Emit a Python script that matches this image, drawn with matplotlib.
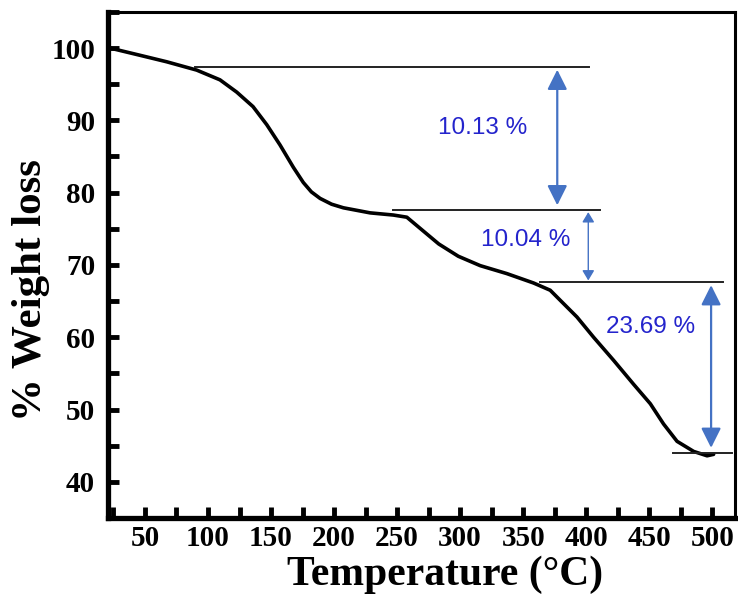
import matplotlib
matplotlib.use("Agg")
import matplotlib.pyplot as plt
from matplotlib.ticker import MultipleLocator

# TGA curve
temp = [22.2, 46, 67.2, 91, 109.5, 122.8, 135.7, 146.6, 157.1, 167.7, 175.6,
        182, 188.9, 198, 207.4, 228.6, 247, 257.7, 270, 283, 298.5, 315.9, 337,
        358.2, 371.4, 379.4, 392.6, 405.8, 421.7, 437.5, 450.8, 461.3, 472,
        485.2, 495.8, 501]
weight = [100.0, 99.0, 98.1, 96.95, 95.6, 93.9, 91.9, 89.4, 86.6, 83.5, 81.4,
          80.1, 79.2, 78.4, 77.9, 77.2, 76.9, 76.6, 74.8, 72.9, 71.2, 69.9,
          68.8, 67.5, 66.5, 65.1, 62.8, 60.0, 56.8, 53.5, 50.8, 48.0, 45.6,
          44.2, 43.6, 43.8]

# step levels (y, x start, x end)
level_y = [97.37, 77.55, 67.6, 44.0]
level_x0 = [89.7, 247, 363.5, 469]
level_x1 = [402, 411, 508.7, 515.7]

# double arrows (x, y top, y bottom) and labels
arrow_x = [377, 401.6, 499]
arrow_top = [97.0, 77.3, 67.2]
arrow_bot = [78.25, 67.85, 44.7]
arrow_big = [True, False, True]
loss_text = ["10.13 %", "10.04 %", "23.69 %"]
text_x = [318, 351.6, 450.8]
text_y = [88.9, 73.4, 61.4]

fig = plt.figure(figsize=(7.38, 5.94), dpi=100)
ax = fig.add_axes([0.146, 0.128, 0.85, 0.852])

ax.plot(temp, weight, color="black", lw=2.6, solid_capstyle="round",
        solid_joinstyle="round")

for y, a, b in zip(level_y, level_x0, level_x1):
    ax.plot([a, b], [y, y], color="#222222", lw=1.4)

arrow_col = "#4472C4"
for x, t, b, big in zip(arrow_x, arrow_top, arrow_bot, arrow_big):
    if big:
        style = "<|-|>,head_length=1.2,head_width=0.6"
        lw = 1.6
    else:
        style = "<|-|>,head_length=0.6,head_width=0.36"
        lw = 1.0
    ax.annotate("", xy=(x, b), xytext=(x, t),
                arrowprops=dict(arrowstyle=style, color=arrow_col, lw=lw,
                                mutation_scale=10, shrinkA=0, shrinkB=0))

for s, x, y in zip(loss_text, text_x, text_y):
    ax.text(x, y, s, color="#2424cc", fontsize=17.5, family="Liberation Sans",
            ha="center", va="center")

ax.set_xlim(20.5, 518)
ax.set_ylim(35, 105)
ax.xaxis.set_major_locator(MultipleLocator(50))
ax.xaxis.set_minor_locator(MultipleLocator(25))
ax.yaxis.set_major_locator(MultipleLocator(10))
ax.yaxis.set_minor_locator(MultipleLocator(5))
ax.tick_params(which="both", direction="in", length=8, width=3.5,
               top=False, right=False)
ax.tick_params(axis="x", labelsize=21, pad=5)
ax.tick_params(axis="y", labelsize=21, pad=9)
for lab in ax.get_xticklabels() + ax.get_yticklabels():
    lab.set_fontfamily("Liberation Serif")
    lab.set_fontweight("bold")

ax.spines["left"].set_linewidth(3.8)
ax.spines["bottom"].set_linewidth(3.8)
ax.spines["top"].set_linewidth(2.2)
ax.spines["right"].set_linewidth(2.2)

ax.set_xlabel("Temperature (\u00b0C)", fontsize=30, fontweight="bold",
              family="Liberation Serif")
ax.set_ylabel("% Weight loss", fontsize=31, fontweight="bold",
              family="Liberation Serif")
ax.xaxis.set_label_coords(0.537, -0.075)
ax.yaxis.set_label_coords(-0.092, 0.45)

fig.savefig("out.png", dpi=100)
